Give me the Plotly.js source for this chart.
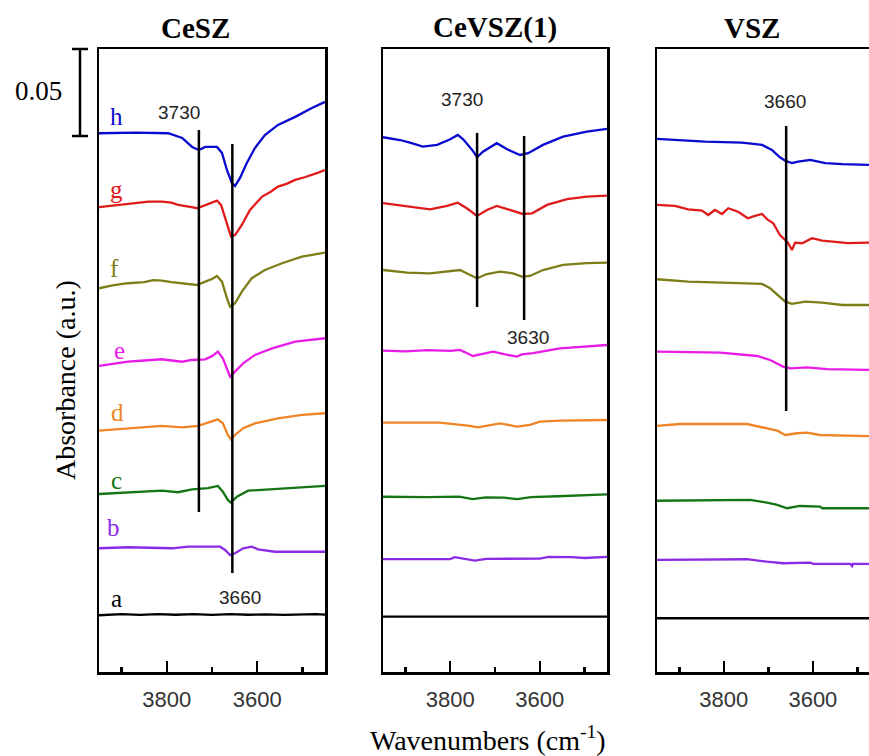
<!DOCTYPE html>
<html>
<head>
<meta charset="utf-8">
<script src="https://cdn.plot.ly/plotly-3.0.1.min.js"></script>
<style>html,body{margin:0;padding:0;background:#fff;}#chart{width:869px;height:756px;}</style>
</head>
<body>
<div id="chart"></div>
<script>
// ---------- data (offset-stacked absorbance vs wavenumber, cm-1) ----------
const panelTitles = ["CeSZ", "CeVSZ(1)", "VSZ"];
const curveLabels = ["h", "g", "f", "e", "d", "c", "b", "a"];
const curveColors = ["#0A0ACF", "#E01B1B", "#7D7D1A", "#E81CE8", "#F08527", "#157515", "#8B2BE6", "#000000"];
const xTickLabels = ["3800", "3600"];
const scaleBarValue = 0.05;
const yMax = 0.358;

// Panel 1: CeSZ
const wnH1 = [3950, 3870, 3797, 3766, 3744, 3729, 3715, 3689, 3678, 3667, 3656, 3649, 3638, 3623, 3605, 3583, 3554, 3516, 3479, 3450];
const abH1 = [0.3096, 0.3099, 0.3096, 0.3069, 0.3017, 0.3000, 0.3017, 0.3017, 0.2983, 0.2885, 0.2810, 0.2793, 0.2839, 0.2925, 0.3011, 0.3086, 0.3144, 0.3190, 0.3241, 0.3276];
const wnG1 = [3950, 3925, 3905, 3886, 3860, 3840, 3811, 3790, 3775, 3755, 3745, 3733, 3715, 3700, 3689, 3680, 3667, 3658, 3649, 3634, 3616, 3589, 3570, 3554, 3535, 3516, 3495, 3479, 3465, 3450];
const abG1 = [0.2671, 0.2678, 0.2684, 0.2690, 0.2697, 0.2703, 0.2703, 0.2697, 0.2684, 0.2678, 0.2672, 0.2665, 0.2684, 0.2697, 0.2709, 0.2684, 0.2580, 0.2502, 0.2511, 0.2569, 0.2655, 0.2732, 0.2760, 0.2789, 0.2805, 0.2828, 0.2843, 0.2856, 0.2870, 0.2885];
const wnF1 = [3950, 3920, 3886, 3850, 3830, 3811, 3790, 3766, 3745, 3733, 3715, 3700, 3689, 3678, 3667, 3660, 3649, 3634, 3612, 3583, 3545, 3501, 3450];
const abF1 = [0.2205, 0.2222, 0.2234, 0.2240, 0.2252, 0.2249, 0.2240, 0.2234, 0.2230, 0.2224, 0.2243, 0.2258, 0.2276, 0.2243, 0.2148, 0.2099, 0.2119, 0.2186, 0.2263, 0.2310, 0.2349, 0.2387, 0.2410];
const wnE1 = [3950, 3920, 3886, 3850, 3811, 3790, 3766, 3745, 3733, 3715, 3700, 3687, 3676, 3665, 3660, 3649, 3631, 3605, 3567, 3516, 3450];
const abE1 = [0.1759, 0.1770, 0.1783, 0.1790, 0.1797, 0.1790, 0.1783, 0.1793, 0.1793, 0.1797, 0.1815, 0.1841, 0.1803, 0.1726, 0.1697, 0.1726, 0.1774, 0.1822, 0.1860, 0.1898, 0.1918];
const wnD1 = [3950, 3886, 3850, 3811, 3766, 3731, 3709, 3687, 3676, 3665, 3658, 3649, 3631, 3605, 3554, 3501, 3450];
const abD1 = [0.1387, 0.1401, 0.1408, 0.1414, 0.1406, 0.1414, 0.1433, 0.1452, 0.1429, 0.1362, 0.1337, 0.1362, 0.1401, 0.1429, 0.1458, 0.1477, 0.1487];
const wnC1 = [3950, 3886, 3811, 3775, 3744, 3709, 3687, 3676, 3665, 3658, 3645, 3620, 3576, 3494, 3450];
const abC1 = [0.1023, 0.1033, 0.1042, 0.1033, 0.1050, 0.1056, 0.1069, 0.1036, 0.0989, 0.0973, 0.1007, 0.1042, 0.1050, 0.1061, 0.1069];
const wnB1 = [3950, 3886, 3788, 3753, 3682, 3671, 3660, 3649, 3631, 3612, 3598, 3561, 3450];
const abB1 = [0.0711, 0.0717, 0.0711, 0.0720, 0.0720, 0.0701, 0.0672, 0.0682, 0.0711, 0.0720, 0.0705, 0.0691, 0.0691];
const wnA1 = [3950, 3900, 3860, 3820, 3780, 3740, 3700, 3660, 3620, 3580, 3540, 3500, 3470, 3450];
const abA1 = [0.0326, 0.0332, 0.0328, 0.0333, 0.0329, 0.0332, 0.0328, 0.0333, 0.0329, 0.0331, 0.0328, 0.0332, 0.0333, 0.0330];

// Panel 2: CeVSZ(1)
const wnH2 = [3950, 3912, 3890, 3861, 3829, 3800, 3783, 3771, 3751, 3740, 3727, 3696, 3673, 3644, 3626, 3593, 3548, 3495, 3450];
const abH2 = [0.3073, 0.3057, 0.3042, 0.3019, 0.3029, 0.3061, 0.3086, 0.3061, 0.3000, 0.2958, 0.2990, 0.3039, 0.3004, 0.2971, 0.2981, 0.3029, 0.3076, 0.3105, 0.3121];
const wnG2 = [3950, 3896, 3845, 3807, 3783, 3763, 3740, 3718, 3696, 3667, 3638, 3617, 3584, 3539, 3495, 3450];
const abG2 = [0.2694, 0.2674, 0.2659, 0.2678, 0.2697, 0.2665, 0.2621, 0.2655, 0.2678, 0.2655, 0.2632, 0.2636, 0.2684, 0.2717, 0.2732, 0.2737];
const wnF2 = [3950, 3896, 3845, 3807, 3778, 3760, 3740, 3718, 3689, 3660, 3640, 3622, 3593, 3548, 3495, 3450];
const abF2 = [0.2310, 0.2295, 0.2291, 0.2301, 0.2310, 0.2287, 0.2263, 0.2287, 0.2301, 0.2291, 0.2272, 0.2276, 0.2310, 0.2339, 0.2349, 0.2352];
const wnE2 = [3950, 3900, 3850, 3800, 3778, 3749, 3725, 3704, 3680, 3651, 3640, 3615, 3555, 3495, 3450];
const abE2 = [0.1847, 0.1842, 0.1850, 0.1845, 0.1851, 0.1816, 0.1830, 0.1841, 0.1826, 0.1812, 0.1825, 0.1832, 0.1860, 0.1870, 0.1879];
const wnD2 = [3950, 3823, 3756, 3738, 3689, 3651, 3622, 3600, 3555, 3450];
const abD2 = [0.1433, 0.1433, 0.1414, 0.1406, 0.1429, 0.1410, 0.1420, 0.1439, 0.1444, 0.1448];
const wnC2 = [3950, 3850, 3780, 3750, 3720, 3680, 3650, 3620, 3560, 3500, 3450];
const abC2 = [0.1007, 0.1005, 0.1008, 0.0994, 0.1003, 0.1002, 0.0993, 0.1005, 0.1010, 0.1016, 0.1021];
const wnB2 = [3950, 3800, 3790, 3770, 3745, 3720, 3600, 3580, 3530, 3500, 3450];
const abB2 = [0.0649, 0.0649, 0.0660, 0.0652, 0.0640, 0.0650, 0.0652, 0.0661, 0.0660, 0.0655, 0.0662];
const wnA2 = [3950, 3450];
const abA2 = [0.0318, 0.0318];

// Panel 3: VSZ
const wnH3 = [3950, 3903, 3842, 3759, 3714, 3692, 3674, 3662, 3647, 3633, 3606, 3572, 3534, 3476, 3450];
const abH3 = [0.3063, 0.3057, 0.3048, 0.3042, 0.3029, 0.3000, 0.2958, 0.2938, 0.2924, 0.2933, 0.2943, 0.2924, 0.2918, 0.2914, 0.2914];
const wnG3 = [3950, 3910, 3880, 3849, 3835, 3820, 3804, 3790, 3768, 3746, 3730, 3714, 3703, 3689, 3674, 3662, 3656, 3647, 3640, 3624, 3602, 3579, 3557, 3521, 3476, 3450];
const abG3 = [0.2684, 0.2678, 0.2659, 0.2651, 0.2626, 0.2655, 0.2632, 0.2665, 0.2645, 0.2607, 0.2621, 0.2632, 0.2602, 0.2579, 0.2511, 0.2479, 0.2467, 0.2425, 0.2467, 0.2464, 0.2493, 0.2479, 0.2473, 0.2464, 0.2467, 0.2467];
const wnF3 = [3950, 3880, 3804, 3714, 3696, 3678, 3662, 3647, 3617, 3579, 3534, 3476, 3450];
const abF3 = [0.2257, 0.2243, 0.2237, 0.2230, 0.2205, 0.2167, 0.2128, 0.2115, 0.2128, 0.2122, 0.2109, 0.2109, 0.2109];
const wnE3 = [3950, 3808, 3725, 3696, 3667, 3651, 3613, 3568, 3478, 3450];
const abE3 = [0.1841, 0.1835, 0.1816, 0.1793, 0.1755, 0.1745, 0.1751, 0.1740, 0.1736, 0.1736];
const wnD3 = [3950, 3898, 3748, 3712, 3680, 3662, 3635, 3613, 3584, 3478, 3450];
const abD3 = [0.1414, 0.1425, 0.1425, 0.1406, 0.1387, 0.1362, 0.1372, 0.1375, 0.1362, 0.1356, 0.1356];
const wnC3 = [3950, 3741, 3703, 3680, 3658, 3629, 3584, 3579, 3478, 3450];
const abC3 = [0.0984, 0.0989, 0.0973, 0.0960, 0.0941, 0.0954, 0.0950, 0.0941, 0.0941, 0.0941];
const wnB3 = [3950, 3748, 3703, 3667, 3606, 3599, 3516, 3512, 3510, 3478, 3450];
const abB3 = [0.0644, 0.0648, 0.0634, 0.0625, 0.0628, 0.0621, 0.0621, 0.0609, 0.0621, 0.0621, 0.0621];
const wnA3 = [3950, 3660, 3640, 3600, 3560, 3520, 3478, 3450];
const abA3 = [0.0309, 0.0309, 0.0305, 0.0309, 0.0305, 0.0309, 0.0305, 0.0309];

// band markers
const markerWn   = [3729, 3655, 3740, 3635, 3660];
const markerPanel = [1, 1, 2, 2, 3];
const markerYLow = [0.0920, 0.0569, 0.2098, 0.2023, 0.1500];
const markerYHigh = [0.3115, 0.3034, 0.3098, 0.3080, 0.3138];
const bandLabels = ["3730", "3660", "3730", "3630", "3660"];
const bandLabelWn = [3773, 3638, 3774, 3626, 3662];
const bandLabelY = [0.3213, 0.0431, 0.3287, 0.1925, 0.3276];

// curve letter positions (panel 1)
const letterWn = [3912, 3912, 3915, 3904, 3910, 3912, 3917, 3912];
const letterY  = [0.3190, 0.2770, 0.2316, 0.1845, 0.1494, 0.1098, 0.0828, 0.0425];

// ---------- build ----------
const panels = [
  [[wnH1, abH1], [wnG1, abG1], [wnF1, abF1], [wnE1, abE1], [wnD1, abD1], [wnC1, abC1], [wnB1, abB1], [wnA1, abA1]],
  [[wnH2, abH2], [wnG2, abG2], [wnF2, abF2], [wnE2, abE2], [wnD2, abD2], [wnC2, abC2], [wnB2, abB2], [wnA2, abA2]],
  [[wnH3, abH3], [wnG3, abG3], [wnF3, abF3], [wnE3, abE3], [wnD3, abD3], [wnC3, abC3], [wnB3, abB3], [wnA3, abA3]]
];

const traces = [];
panels.forEach((curves, p) => {
  const sfx = p === 0 ? "" : String(p + 1);
  curves.forEach((c, i) => {
    traces.push({
      x: c[0], y: c[1], type: "scatter", mode: "lines",
      xaxis: "x" + sfx, yaxis: "y" + sfx,
      line: {color: curveColors[i], width: 2.3},
      showlegend: false, hoverinfo: "skip"
    });
  });
});

const W = 869, H = 756;
const plotTop = 49, plotBottom = 672;
const xDomains = [[99 / W, 325 / W], [383 / W, 607 / W], [657 / W, 1]];
const xRanges = [[3950, 3450], [3950, 3450], [3950, 3474]];

function xAxis(p) {
  return {
    domain: xDomains[p], range: xRanges[p], anchor: p === 0 ? "y" : "y" + (p + 1),
    tickmode: "array", tickvals: xTickLabels.map(Number), ticktext: xTickLabels,
    ticks: "inside", ticklen: 11, tickwidth: 2.5, tickcolor: "#000",
    minor: {tickmode: "array", tickvals: [3900, 3700, 3500], ticks: "inside", ticklen: 5, tickwidth: 2.5, tickcolor: "#000", showgrid: false},
    showline: true, linecolor: "#000", linewidth: 2.5, mirror: true,
    showgrid: false, zeroline: false, ticklabelstandoff: 6,
    tickfont: {family: "Liberation Sans, Arial, sans-serif", size: 22, color: "#333"}
  };
}
function yAxis(p) {
  return {
    domain: [0, 1], range: [0, yMax], anchor: p === 0 ? "x" : "x" + (p + 1),
    showticklabels: false, ticks: "", showgrid: false, zeroline: false,
    showline: true, linecolor: "#000", linewidth: 2.5, mirror: p < 2
  };
}

const serif = "Liberation Serif, Times New Roman, serif";
const sans = "Liberation Sans, Arial, sans-serif";

// paper coordinates span the plot area (inside margins)
const py = v => (plotBottom - v) / (plotBottom - plotTop);

const shapes = [];
markerWn.forEach((wn, k) => {
  const sfx = markerPanel[k] === 1 ? "" : String(markerPanel[k]);
  shapes.push({type: "line", xref: "x" + sfx, yref: "y" + sfx, x0: wn, x1: wn,
    y0: markerYLow[k], y1: markerYHigh[k], line: {color: "#000", width: 2.5}});
});
// scale bar (0.05 absorbance) from the y scale
const barTop = yMax, barBot = yMax - scaleBarValue;
shapes.push({type: "line", xref: "paper", yref: "paper", x0: 80 / W, x1: 80 / W, y0: barBot / yMax, y1: barTop / yMax, line: {color: "#000", width: 2.5}});
shapes.push({type: "line", xref: "paper", yref: "paper", x0: 72 / W, x1: 88 / W, y0: barTop / yMax, y1: barTop / yMax, line: {color: "#000", width: 2.5}});
shapes.push({type: "line", xref: "paper", yref: "paper", x0: 72 / W, x1: 88 / W, y0: barBot / yMax, y1: barBot / yMax, line: {color: "#000", width: 2.5}});

const annotations = [];
const titleX = [195, 495, 752];
panelTitles.forEach((t, p) => {
  annotations.push({text: "<b>" + t + "</b>", xref: "paper", yref: "paper", x: titleX[p] / W, y: py(28),
    showarrow: false, xanchor: "center", yanchor: "middle", font: {family: serif, size: 29, color: "#000"}});
});
bandLabels.forEach((t, k) => {
  const sfx = markerPanel[k] === 1 ? "" : String(markerPanel[k]);
  annotations.push({text: t, xref: "x" + sfx, yref: "y" + sfx, x: bandLabelWn[k], y: bandLabelY[k],
    showarrow: false, xanchor: "center", yanchor: "middle", font: {family: sans, size: 19, color: "#222"}});
});
curveLabels.forEach((t, i) => {
  annotations.push({text: t, xref: "x", yref: "y", x: letterWn[i], y: letterY[i],
    showarrow: false, xanchor: "center", yanchor: "middle", font: {family: serif, size: 25, color: curveColors[i]}});
});
annotations.push({text: String(scaleBarValue), xref: "paper", yref: "paper", x: 38 / W, y: py(91),
  showarrow: false, xanchor: "center", yanchor: "middle", font: {family: serif, size: 27, color: "#000"}});
annotations.push({text: "Absorbance (a.u.)", xref: "paper", yref: "paper", x: 66 / W, y: py(380), textangle: -90,
  showarrow: false, xanchor: "center", yanchor: "middle", font: {family: serif, size: 28, color: "#000"}});
annotations.push({text: "Wavenumbers (cm<sup>-1</sup>)", xref: "paper", yref: "paper", x: 488 / W, y: py(738),
  showarrow: false, xanchor: "center", yanchor: "middle", font: {family: serif, size: 28, color: "#000"}});

const layout = {
  width: W, height: H,
  margin: {l: 0, r: 0, t: plotTop, b: H - plotBottom, pad: 0},
  paper_bgcolor: "#fff", plot_bgcolor: "#fff",
  showlegend: false, hovermode: false,
  xaxis: xAxis(0), xaxis2: xAxis(1), xaxis3: xAxis(2),
  yaxis: yAxis(0), yaxis2: yAxis(1), yaxis3: yAxis(2),
  shapes: shapes, annotations: annotations
};

Plotly.newPlot("chart", traces, layout, {staticPlot: true, displayModeBar: false});
</script>
</body>
</html>
